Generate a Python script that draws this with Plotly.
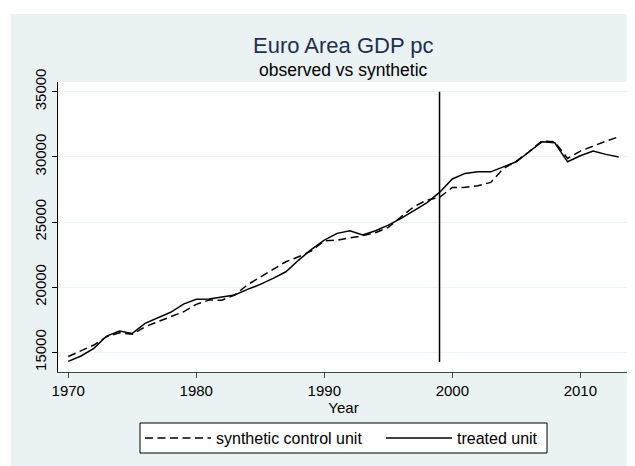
import plotly.graph_objects as go

years = list(range(1970, 2014))

treated = [14300, 14720, 15300, 16250, 16630, 16450, 17220, 17650, 18070, 18700,
           19070, 19090, 19220, 19400, 19830, 20210, 20670, 21180, 22080, 22900,
           23610, 24130, 24330, 24000, 24330, 24760, 25280, 25860, 26470, 27270,
           28300, 28730, 28850, 28850, 29240, 29620, 30390, 31150, 31080, 29620,
           30080, 30440, 30190, 29990]

synthetic = [14680, 15120, 15560, 16200, 16500, 16380, 16960, 17350, 17730, 18110,
             18680, 19010, 19000, 19400, 20180, 20800, 21360, 21950, 22330, 22790,
             23560, 23610, 23780, 23950, 24180, 24590, 25400, 26170, 26680, 26890,
             27650, 27660, 27780, 28040, 29110, 29670, 30390, 31230, 31150, 29880,
             30440, 30850, 31210, 31540]

treatment_year = 1999
vline_span = [14250, 35000]

bg = '#EAF2F3'
font = 'Liberation Sans, Arial, sans-serif'

# page body has an 8px margin, so the figure is 8px smaller than the window
W, H = 627, 458
L, T, R, B = 50, 74, 6, 94
pw, ph = W - L - R, H - T - B

def px(x):
    return (x - L) / pw

def py(y):
    return (H - B - y) / ph

fig = go.Figure()
fig.add_trace(go.Scatter(name='synthetic control unit', x=years, y=synthetic, mode='lines',
                         line=dict(color='black', width=1.5, dash='8px,4.5px'), legend='legend'))
fig.add_trace(go.Scatter(name='treated unit', x=years, y=treated, mode='lines',
                         line=dict(color='black', width=1.5), legend='legend2'))
fig.add_trace(go.Scatter(x=[treatment_year, treatment_year], y=vline_span, mode='lines',
                         line=dict(color='black', width=1.5), showlegend=False, hoverinfo='skip'))

# white strips left and top of the light panel
fig.add_shape(type='rect', xref='paper', yref='paper', x0=px(-10), x1=px(3),
              y0=-1, y1=2, fillcolor='white', line_width=0, layer='below')
fig.add_shape(type='rect', xref='paper', yref='paper', x0=-1, x1=2,
              y0=py(6), y1=2, fillcolor='white', line_width=0, layer='below')
# legend box shared by both entries
fig.add_shape(type='rect', xref='paper', yref='paper', x0=px(132), x1=px(539),
              y0=py(445), y1=py(415), fillcolor='white', line=dict(color='black', width=1),
              layer='below')

fig.add_annotation(text='Euro Area GDP pc', xref='paper', yref='paper', x=0.5, y=py(37),
                   xanchor='center', yanchor='middle', showarrow=False,
                   font=dict(size=22, color='#1e3050', family=font))
fig.add_annotation(text='observed vs synthetic', xref='paper', yref='paper', x=0.5, y=py(62),
                   xanchor='center', yanchor='middle', showarrow=False,
                   font=dict(size=17.5, color='black', family=font))

fig.update_xaxes(range=[1969.2, 2013.8], tickvals=[1970, 1980, 1990, 2000, 2010],
                 ticks='outside', ticklen=5, tickcolor='#444', showline=True, linecolor='#444',
                 linewidth=1, showgrid=False, zeroline=False,
                 tickfont=dict(size=15, color='black', family=font),
                 title=dict(text='Year', font=dict(size=15, color='black', family=font), standoff=0))
fig.update_yaxes(range=[13489, 35744], tickvals=[15000, 20000, 25000, 30000, 35000],
                 tickformat='d', tickangle=-90, ticks='outside', ticklen=5, tickcolor='black',
                 showline=True, linecolor='black', linewidth=1, showgrid=True, gridcolor=bg,
                 gridwidth=1, zeroline=False, tickfont=dict(size=15, color='black', family=font))

leg = dict(orientation='h', xanchor='left', y=py(413), yanchor='top',
           bgcolor='rgba(0,0,0,0)', borderwidth=0, itemwidth=66,
           font=dict(size=16, color='black', family=font))

fig.update_layout(width=W, height=H, margin=dict(l=L, r=R, t=T, b=B),
                  paper_bgcolor=bg, plot_bgcolor='white', showlegend=True,
                  legend=dict(leg, x=px(132)), legend2=dict(leg, x=px(373)),
                  font=dict(family=font))

fig.write_html('out.html')
